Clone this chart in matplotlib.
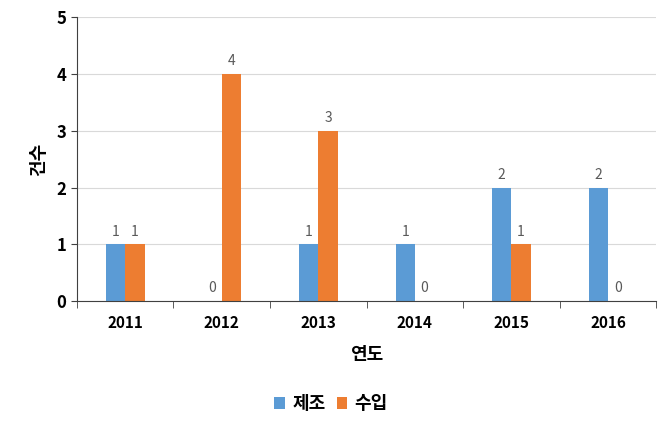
import numpy as np
import matplotlib
matplotlib.use("Agg")
import matplotlib.pyplot as plt

plt.rcParams['font.family'] = ['Noto Sans CJK KR', 'DejaVu Sans']

years = ['2011', '2012', '2013', '2014', '2015', '2016']
manufacture = [1, 0, 1, 1, 2, 2]   # 제조
imports = [1, 4, 3, 0, 1, 0]       # 수입

blue = '#5B9BD5'
orange = '#ED7D31'

fig = plt.figure(figsize=(6.69, 4.26), dpi=100)
ax = fig.add_axes([0.115, 0.293, 0.866, 0.667])

x = np.arange(len(years))
w = 0.2
b1 = ax.bar(x - w/2, manufacture, w, color=blue, label='제조')
b2 = ax.bar(x + w/2, imports, w, color=orange, label='수입')

for bars in (b1, b2):
    for r in bars:
        h = r.get_height()
        ax.text(r.get_x() + r.get_width()/2, h + 0.1, str(int(h)),
                ha='center', va='bottom', fontsize=10, color='#595959')

ax.set_xlim(-0.5, len(years) - 0.5)
ax.set_ylim(0, 5)
ax.set_yticks(range(6))
ax.set_xticks(x)
ax.set_xticklabels(years)
ax.set_xticks(np.arange(len(years) + 1) - 0.5, minor=True)
ax.tick_params(axis='x', which='major', length=0, pad=10, labelsize=11)
ax.tick_params(axis='x', which='minor', length=5, color='#404040')
ax.tick_params(axis='y', length=4, color='#404040', labelsize=12)
for lab in ax.get_xticklabels() + ax.get_yticklabels():
    lab.set_fontweight('bold')

ax.grid(axis='y', color='#d9d9d9', lw=0.8)
ax.set_axisbelow(True)
for s in ('top', 'right'):
    ax.spines[s].set_visible(False)
for s in ('left', 'bottom'):
    ax.spines[s].set_color('#404040')

ax.set_ylabel('건수', fontsize=13, fontweight='bold', labelpad=6)
ax.set_xlabel('연도', fontsize=13, fontweight='bold', labelpad=10)

leg = fig.legend(handles=[b1, b2], loc='center', bbox_to_anchor=(0.495, 0.052),
                 ncol=2, frameon=False, handlelength=0.6, handleheight=0.6,
                 handletextpad=0.4, columnspacing=0.6,
                 prop={'weight': 'bold', 'size': 13})

fig.savefig('out.png', dpi=100)
